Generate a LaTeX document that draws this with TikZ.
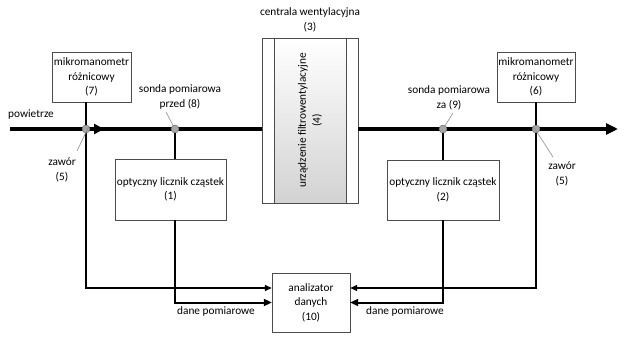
\documentclass[tikz,border=0pt]{standalone}
\usepackage{fontspec}
\setmainfont{Carlito}
\usepackage{xcolor}
\definecolor{cLine}{HTML}{000000}
\definecolor{cLead}{HTML}{8C8C8C}
\definecolor{cValve}{HTML}{A6A6A6}
\usetikzlibrary{positioning, arrows.meta}

\begin{document}
\begin{tikzpicture}[
    x=1pt, y=-1pt,
    font=\fontsize{11.3}{14.5}\selectfont,
    box/.style    = {draw=black!70, align=center, inner sep=0pt, fill=white},
    valve/.style  = {circle, draw=black!60, fill=cValve, minimum size=8pt, inner sep=0pt},
    lbl/.style    = {align=center, inner sep=1pt},
    lead/.style   = {draw=cLead, line width=0.6pt},
    main/.style   = {line width=3.5pt, color=cLine},
    arr/.style    = {-{Triangle[length=7pt,width=6pt]}, line width=1.3pt},
    tarr/.style   = {-{Triangle[length=8pt,width=7pt]}, line width=2pt}
]
\useasboundingbox (0,0) rectangle (626,347);

% --- Kanal powietrza: y wspolrzedna -------------------------------------
\def\yAir{129}
\coordinate (in)  at (10,\yAir);
\coordinate (out) at (618,\yAir);

% --- Centrala wentylacyjna (srodek) --------------------------------------
\node[box, minimum width=96pt, minimum height=165pt] (ahu) at (310,120.5) {};
\node[draw=black!70, minimum width=72pt, minimum height=165pt, inner sep=0pt,
      top color=white, bottom color=gray!35] (filt) at (310,120.5) {};
\node[lbl, rotate=90] (filtl) at (filt.center) {urządzenie filtrowentylacyjne\\(4)};
\node[lbl] (ahul) at (310,20) {centrala wentylacyjna\\(3)};

% --- Glowny przewod (gruba linia) ----------------------------------------
\draw[main] (in) -- (ahu.west |- in);
\draw[main, -{Triangle[length=12pt,width=11pt]}] (ahu.east |- in) -- (out);
\coordinate (mida) at (92,\yAir);
\coordinate (midb) at (104,\yAir);
\draw[line width=3.5pt, -{Triangle[length=10pt,width=10pt]}] (mida) -- (midb);
\node[lbl, anchor=south west] (air) at (7,121) {powietrze};

% --- Mikromanometry (gora) -----------------------------------------------
\node[box, minimum width=79pt, minimum height=50pt] (mm7) at (91.5,77)
  {mikromanometr\\różnicowy\\(7)};
\node[box, minimum width=78pt, minimum height=50pt] (mm6) at (536,77)
  {mikromanometr\\różnicowy\\(6)};

% --- Liczniki czastek (pod przewodem) ------------------------------------
\node[box, minimum width=111pt, minimum height=61pt] (oc1) at (170.5,189.5)
  {optyczny licznik cząstek\\(1)};
\node[box, minimum width=112pt, minimum height=60pt] (oc2) at (443,190)
  {optyczny licznik cząstek\\(2)};

% --- Analizator danych (dol) ---------------------------------------------
\node[box, minimum width=78pt, minimum height=59pt] (an) at (311,302.5)
  {analizator\\danych\\(10)};

% --- Zawory i sondy na przewodzie ----------------------------------------
\coordinate (v5l) at (86,\yAir);
\coordinate (s8)  at (175,\yAir);
\coordinate (s9)  at (443,\yAir);
\coordinate (v5r) at (536,\yAir);

% --- Polaczenia do analizatora -------------------------------------------
\draw[arr]  (mm7.south -| v5l) |- ([yshift=14.5pt]an.west);
\draw[arr]  (mm6.south -| v5r) |- ([yshift=14.5pt]an.east);
\draw[line width=2pt] (s8) -- (oc1.north -| s8);
\draw[line width=2pt] (s9) -- (oc2.north -| s9);
\draw[tarr] (oc1.south -| s8) |- (an.west);
\draw[tarr] (oc2.south -| s9) |- (an.east);

% --- Opisy: sondy i zawory (z odnosnikami) -------------------------------
\node[lbl] (s8l) at (180,97)  {sonda pomiarowa\\przed (8)};
\node[lbl] (s9l) at (449,98)  {sonda pomiarowa\\za (9)};
\node[lbl] (v5ll) at (62,170) {zawór\\(5)};
\node[lbl] (v5rl) at (562,174) {zawór\\(5)};
\coordinate (s8e)  at (166,112);
\coordinate (s9e)  at (453,113);
\coordinate (v5le) at (77,151);
\coordinate (v5re) at (553,157);
\draw[lead] (s8e) -- (s8);
\draw[lead] (s9e) -- (s9);

\node[valve] (v5lc) at (v5l) {};
\node[valve] (s8c)  at (s8)  {};
\node[valve] (s9c)  at (s9)  {};
\node[valve] (v5rc) at (v5r) {};
\draw[lead] (v5le) -- ([shift={(3pt,3pt)}]v5lc.center);
\draw[lead] (v5re) -- ([shift={(-3pt,3pt)}]v5rc.center);

% --- Dane pomiarowe -------------------------------------------------------
\node[lbl] (dp1) at (216,311) {dane pomiarowe};
\node[lbl] (dp2) at (405,311) {dane pomiarowe};
\end{tikzpicture}
\end{document}
